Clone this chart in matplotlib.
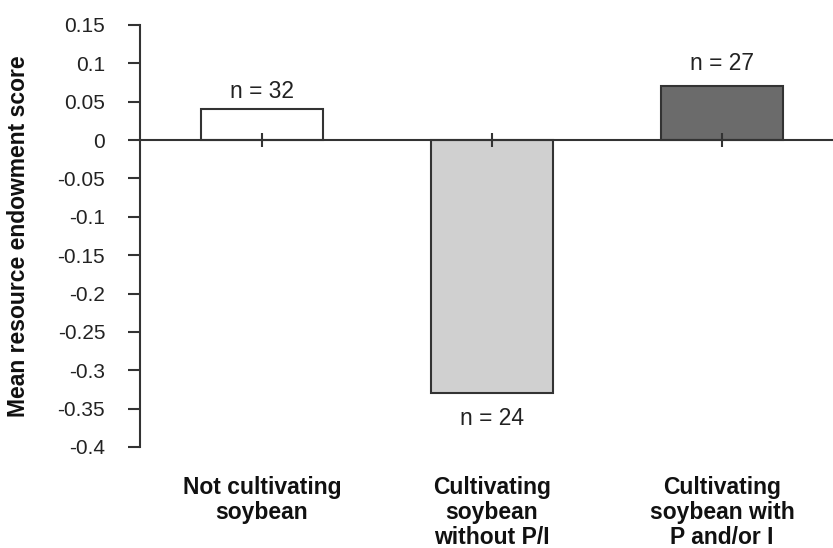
import matplotlib
matplotlib.use("Agg")
from matplotlib import pyplot as plt
from matplotlib import transforms

plt.rcParams['font.family'] = ['Liberation Sans', 'DejaVu Sans']

# data
categories = ["Not cultivating\nsoybean",
              "Cultivating\nsoybean\nwithout P/I",
              "Cultivating\nsoybean with\nP and/or I"]
scores = [0.04, -0.33, 0.07]
n_labels = ["n = 32", "n = 24", "n = 27"]
y_ticks = [0.15, 0.1, 0.05, 0, -0.05, -0.1, -0.15, -0.2, -0.25, -0.3, -0.35, -0.4]
y_tick_labels = ["0.15", "0.1", "0.05", "0", "-0.05", "-0.1", "-0.15", "-0.2",
                 "-0.25", "-0.3", "-0.35", "-0.4"]

colors = ["#ffffff", "#d0d0d0", "#6b6b6b"]
edge = "#333333"

fig = plt.figure(figsize=(8.33, 5.48), dpi=100)
ax = fig.add_axes([140 / 833, 101 / 548, 693 / 833, 422 / 548])

x = range(len(categories))
ax.bar(x, scores, width=0.53, color=colors, edgecolor=edge, linewidth=1.5, zorder=2)
ax.set_axisbelow(False)

ax.set_xlim(-0.53, 2.483)
ax.set_ylim(-0.4, 0.15)

# spines: left axis and the x axis drawn at zero
ax.spines["top"].set_visible(False)
ax.spines["right"].set_visible(False)
ax.spines["bottom"].set_position(("data", 0))
for s in ["left", "bottom"]:
    ax.spines[s].set_linewidth(1.5)
    ax.spines[s].set_color(edge)
    ax.spines[s].set_zorder(3)

ax.set_yticks(y_ticks)
ax.set_yticklabels(y_tick_labels, fontsize=15, color="#222222")
ax.tick_params(axis="y", direction="out", length=8.6, width=1.5, color=edge, pad=16.5)
ax.set_xticks(list(x))
ax.set_xticklabels([])
ax.tick_params(axis="x", direction="inout", length=10, width=1.5, color=edge)

# n labels
offsets = [4.5, -10, 8]
for i, (v, lab) in enumerate(zip(scores, n_labels)):
    va = "bottom" if v >= 0 else "top"
    ax.annotate(lab, (i, v), xytext=(0, offsets[i]), textcoords="offset points",
                ha="center", va=va, fontsize=16.4, color="#222222")

# category labels below plot
trans = transforms.blended_transform_factory(ax.transData, ax.transAxes)
for i, cat in enumerate(categories):
    ax.text(i, -0.069, cat, transform=trans, ha="center", va="top",
            fontsize=16.5, fontweight="bold", linespacing=1.1, color="#111111")

ax.set_ylabel("Mean resource endowment score", fontsize=16.5, fontweight="bold",
              color="#111111")
ax.yaxis.set_label_coords(-0.159, 0.5)

plt.savefig("out.png", dpi=100)
